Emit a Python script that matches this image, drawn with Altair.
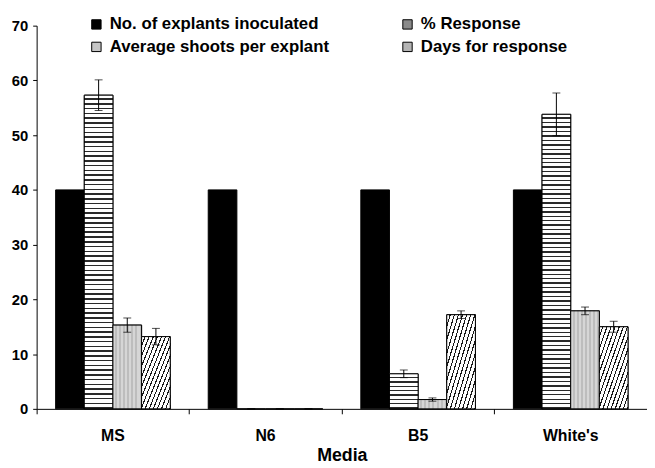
import altair as alt
import pandas as pd

media = ["MS", "N6", "B5", "White's"]
series = ["No. of explants inoculated", "% Response", "Average shoots per explant", "Days for response"]

explants = [40, 40, 40, 40]
response = [57.3, 0, 6.4, 53.8]
response_err = [2.8, 0, 0.7, 3.9]
shoots = [15.3, 0, 1.7, 17.9]
shoots_err = [1.3, 0, 0.3, 0.7]
days = [13.2, 0, 17.2, 15.0]
days_err = [1.5, 0, 0.7, 1.0]

y_ticks = [0, 10, 20, 30, 40, 50, 60, 70]

rows = []
for i, m in enumerate(media):
    rows.append({"Media": m, "Series": series[0], "Value": explants[i], "Err": None})
    rows.append({"Media": m, "Series": series[1], "Value": response[i], "Err": response_err[i]})
    rows.append({"Media": m, "Series": series[2], "Value": shoots[i], "Err": shoots_err[i]})
    rows.append({"Media": m, "Series": series[3], "Value": days[i], "Err": days_err[i]})
df = pd.DataFrame(rows)
df["Lo"] = df["Value"] - df["Err"]
df["Hi"] = df["Value"] + df["Err"]

FONT = "Liberation Sans"


def stripes(n, light, dark, frac, x2, y2):
    stops = []
    for i in range(n):
        a = i / n
        b = (i + frac) / n
        c = (i + 1) / n
        stops += [alt.GradientStop(offset=a, color=light), alt.GradientStop(offset=b, color=light),
                  alt.GradientStop(offset=b, color=dark), alt.GradientStop(offset=c, color=dark)]
    return alt.Gradient(gradient="linear", stops=stops, x1=0, y1=0, x2=x2, y2=y2)


x_enc = alt.X("Media:N", sort=media,
              scale=alt.Scale(paddingInner=0, paddingOuter=0),
              axis=alt.Axis(title="Media", bandPosition=0, labelAngle=0,
                            labelFont=FONT, labelFontWeight="bold", labelFontSize=16,
                            labelColor="black", labelPadding=14,
                            titleFont=FONT, titleFontWeight="bold", titleFontSize=18,
                            titleColor="black", titlePadding=3,
                            tickSize=5, tickColor="black", domainColor="black"))
xo_enc = alt.XOffset("Series:N", sort=series,
                     scale=alt.Scale(domain=series, paddingInner=0, paddingOuter=0.663))
y_enc = alt.Y("Value:Q", scale=alt.Scale(domain=[0, 70], nice=False),
              axis=alt.Axis(title=None, values=y_ticks, grid=False,
                            labelFont=FONT, labelFontWeight="bold", labelFontSize=15,
                            labelColor="black", labelPadding=5,
                            tickSize=4, tickColor="black", domainColor="black"))

base = alt.Chart(df)

bars = base.mark_bar(stroke="black", strokeWidth=1).encode(
    x=x_enc, xOffset=xo_enc, y=y_enc,
    color=alt.Color("Series:N", sort=series,
                    scale=alt.Scale(domain=series, range=["#000000", "#8a8a8a", "#c6c6c6", "#b4b4b4"]),
                    legend=alt.Legend(title=None, orient="none", legendX=52, legendY=-10,
                                      direction="horizontal",
                                      columns=2, columnPadding=70, rowPadding=5,
                                      symbolType="square", symbolSize=90,
                                      symbolStrokeColor="black", symbolStrokeWidth=1,
                                      labelFont=FONT, labelFontWeight="bold", labelFontSize=17,
                                      labelColor="black", labelOffset=5, labelLimit=400,
                                      padding=0))
)

resp_big = base.mark_bar(stroke="black", strokeWidth=1,
                         fill=stripes(66, "#ffffff", "#2a2a2a", 0.68, 0, 1)).encode(
    x=x_enc, xOffset=xo_enc, y=y_enc
).transform_filter((alt.datum.Series == series[1]) & (alt.datum.Value > 20))

resp_small = base.mark_bar(stroke="black", strokeWidth=1,
                           fill=stripes(8, "#ffffff", "#2a2a2a", 0.68, 0, 1)).encode(
    x=x_enc, xOffset=xo_enc, y=y_enc
).transform_filter((alt.datum.Series == series[1]) & (alt.datum.Value <= 20) & (alt.datum.Value > 0))

shoot_bars = base.mark_bar(stroke="black", strokeWidth=1,
                           fill=stripes(7, "#d6d6d6", "#bdbdbd", 0.5, 1, 0)).encode(
    x=x_enc, xOffset=xo_enc, y=y_enc
).transform_filter((alt.datum.Series == series[2]) & (alt.datum.Value > 0))

day_bars = base.mark_bar(stroke="black", strokeWidth=1,
                         fill=stripes(14, "#ffffff", "#1a1a1a", 0.72, 1, 1)).encode(
    x=x_enc, xOffset=xo_enc, y=y_enc
).transform_filter((alt.datum.Series == series[3]) & (alt.datum.Value > 0))

err = base.transform_filter("isValid(datum.Err)")

err_rule = err.mark_rule(color="black", strokeWidth=1).encode(
    x=x_enc, xOffset=xo_enc, y=alt.Y("Lo:Q"), y2="Hi:Q")
cap_lo = err.mark_tick(color="black", thickness=1, size=8, orient="horizontal").encode(
    x=x_enc, xOffset=xo_enc, y=alt.Y("Lo:Q"))
cap_hi = err.mark_tick(color="black", thickness=1, size=8, orient="horizontal").encode(
    x=x_enc, xOffset=xo_enc, y=alt.Y("Hi:Q"))

chart = alt.layer(bars, resp_big, resp_small, shoot_bars, day_bars, err_rule, cap_lo, cap_hi).properties(
    width=618, height=388,
    autosize=alt.AutoSizeParams(type="none"),
    padding={"left": 29, "top": 15, "right": 0, "bottom": 57},
    background="white",
).configure_view(stroke=None)

chart.save("out.html", embed_options={"renderer": "svg", "actions": False})
